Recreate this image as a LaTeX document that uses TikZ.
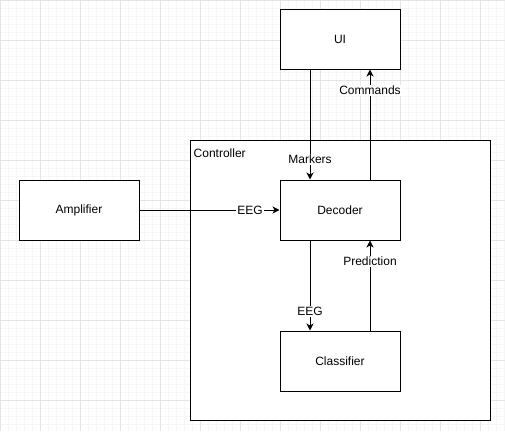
\documentclass[tikz,border=0pt]{standalone}
\usepackage{fontspec}
\setmainfont{Liberation Sans}
\usepackage{tikz}
\usetikzlibrary{arrows.meta,positioning}
\definecolor{gridminor}{HTML}{F6F6F6}
\definecolor{gridmajor}{HTML}{E4E4E4}

\begin{document}
\begin{tikzpicture}[
			x=1pt, y=-1pt,
			>={Stealth[length=7pt,width=7pt,inset=2pt]},
			font=\fontsize{12}{14}\selectfont,
			block/.style={
				rectangle,
				draw=black,
				line width=1pt,
				minimum width=120pt,
				minimum height=60pt,
				inner sep=0pt,
				text centered,
				fill=white
			},
			group/.style={
				rectangle,
				draw=black,
				line width=1pt,
				minimum width=300pt,
				minimum height=280pt,
				inner sep=0pt
			},
			flow/.style={
				draw,
				->,
				line width=1pt
			},
			label/.style={
				fill=white,
				inner sep=1pt
			}
			]
			% background grid
			\useasboundingbox (0,0) rectangle (505,431);
			\fill[white] (0,0) rectangle (505,431);
			\foreach \g in {0,8,...,504} {
				\draw[gridminor, line width=0.6pt] (\g,0) -- (\g,431);
			}
			\foreach \g in {0,8,...,430} {
				\draw[gridminor, line width=0.6pt] (0,\g) -- (505,\g);
			}
			\foreach \g in {0,40,...,504} {
				\draw[gridmajor, line width=0.8pt] (\g,0) -- (\g,431);
			}
			\foreach \g in {0,40,...,430} {
				\draw[gridmajor, line width=0.8pt] (0,\g) -- (505,\g);
			}
			
			% We start by placing the blocks
			\node [group, fill=white] (controller) at (340,280) {};
			\node [anchor=north west, inner sep=0pt, xshift=4pt, yshift=-9pt] (ctrllabel) at (controller.north west) {Controller};
			
			\node [block] (decoder) at (340,210) {Decoder};
			\node [block, above=110pt of decoder] (ui) {UI};
			\node [block, left=140pt of decoder] (amplifier) {Amplifier};
			\node [block, below=90pt of decoder] (classifier) {Classifier};
			
			\draw [flow] (amplifier) -- node [label, pos=0.79] {EEG} (decoder);
			\draw [flow] ([xshift=-30pt]ui.south) -- node [label, pos=0.82] {Markers} ([xshift=-30pt]decoder.north);
			\draw [flow] ([xshift=30pt]decoder.north) -- node [label, pos=0.81] {Commands} ([xshift=30pt]ui.south);
			\draw [flow] ([xshift=-30pt]decoder.south) -- node [label, pos=0.79] {EEG} ([xshift=-30pt]classifier.north);
			\draw [flow] ([xshift=30pt]classifier.north) -- node [label, pos=0.77] {Prediction} ([xshift=30pt]decoder.south);
			
\end{tikzpicture}
\end{document}
